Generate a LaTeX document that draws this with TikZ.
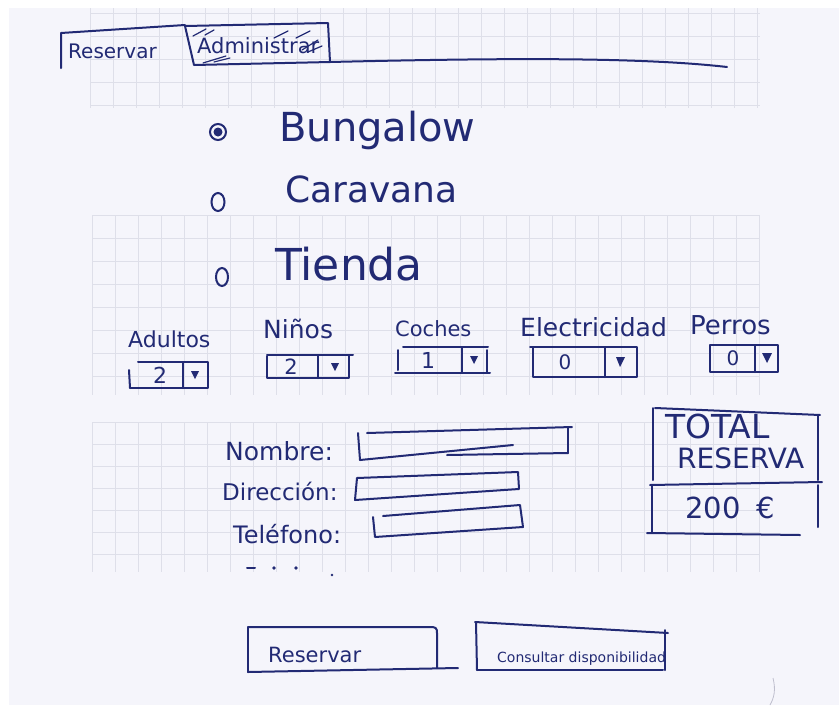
\documentclass[tikz,border=0pt]{standalone}
\usepackage{fontspec}
\setmainfont{DejaVu Sans}
\usetikzlibrary{shapes.geometric}
\definecolor{ink}{RGB}{34,42,116}
\definecolor{paper}{RGB}{245,245,251}
\definecolor{ghost}{RGB}{222,223,233}
\definecolor{crease}{RGB}{190,190,205}
\newcommand{\fs}[1]{\fontsize{#1}{#1}\selectfont}
\begin{document}
\begin{tikzpicture}[x=1pt,y=-1pt,
  pen/.style={draw=ink,line width=2pt,line cap=round,line join=round},
  thin pen/.style={draw=ink,line width=1.2pt,line cap=round},
  hand/.style={text=ink,inner sep=0pt,anchor=base west},
  digit/.style={text=ink,inner sep=0pt,anchor=center},
  gridline/.style={draw=ghost,line width=0.7pt}]
% scanned sheet of paper on a white ground
\fill[white] (0,0) rectangle (839,705);
\useasboundingbox (0,0) rectangle (839,705);
\fill[paper] (9,8) rectangle (839,705);
% faint squared paper showing through
\foreach \x in {90,113,...,760} \draw[gridline] (\x,8) -- (\x,108);
\foreach \y in {13,36,...,108} \draw[gridline] (90,\y) -- (760,\y);
\foreach \x in {92,115,...,760} \draw[gridline] (\x,215) -- (\x,395);
\foreach \y in {215,238,...,395} \draw[gridline] (92,\y) -- (760,\y);
\foreach \x in {92,115,...,760} \draw[gridline] (\x,422) -- (\x,572);
\foreach \y in {422,444,...,572} \draw[gridline] (92,\y) -- (760,\y);
\draw[crease,line width=0.8pt] (773,678) .. controls (776,690) and (774,698) .. (770,705);

% ---- tabs ----
\draw[pen] (61,68) -- (61,33) -- (185,25);
\draw[pen] (185,26) -- (328,23) -- (330,62) -- (194,65) -- cycle;
\draw[pen] (330,62) .. controls (500,58) and (640,57) .. (727,67);
\foreach \a/\b in {{(193,36)/(206,29)},{(205,35)/(214,30)},{(274,38)/(288,31)},{(296,38)/(310,31)},{(302,50)/(318,40)},{(308,52)/(322,46)},{(203,63)/(226,56)},{(214,62)/(230,58)}}
  \draw[thin pen] \a -- \b;
\node[hand,font=\fs{20}] (tabres) at (68,58) {Reservar};
\node[hand,font=\fs{21}] (tabadm) at (197,53) {Administrar};

% ---- accommodation type ----
\node[circle,draw=ink,line width=2pt,minimum size=16pt,inner sep=0pt] (rb1) at (218,132) {};
\fill[ink] (rb1.center) circle (4.5);
\node[ellipse,draw=ink,line width=2pt,minimum width=13pt,minimum height=18pt,inner sep=0pt] (rb2) at (218,202) {};
\node[ellipse,draw=ink,line width=2pt,minimum width=12pt,minimum height=18pt,inner sep=0pt] (rb3) at (222,277) {};
\node[hand,font=\fs{40}] (bung) at (279,141) {Bungalow};
\node[hand,font=\fs{36}] (cara) at (285,202) {Caravana};
\node[hand,font=\fs{44}] (tien) at (275,280) {Tienda};

% ---- counters ----
\node[hand,font=\fs{22}] (ladu) at (128,347) {Adultos};
\node[hand,font=\fs{25}] (lnin) at (263,338) {Niños};
\node[hand,font=\fs{21}] (lcoc) at (395,336) {Coches};
\node[hand,font=\fs{25}] (lele) at (520,336) {Electricidad};
\node[hand,font=\fs{26}] (lper) at (690,334) {Perros};

% Adultos
\draw[pen] (138,362) -- (208,362) -- (208,388) -- (130,388);
\draw[pen] (129,370) -- (130,388);
\draw[pen] (183,362) -- (183,388);
\node[digit,font=\fs{22}] (vadu) at (160,375) {2};
\fill[ink] (191,371) -- (199,371) -- (195,379) -- cycle;
% Niños
\draw[pen] (267,355) -- (353,355);
\draw[pen] (349,355) -- (349,378) -- (267,378) -- (267,356);
\draw[pen] (318,355) -- (318,378);
\node[digit,font=\fs{21}] (vnin) at (291,367) {2};
\fill[ink] (331,363) -- (339,363) -- (335,371) -- cycle;
% Coches
\draw[pen] (403,347) -- (488,347);
\draw[pen] (398,350) -- (398,370);
\draw[pen] (395,373) -- (490,373);
\draw[pen] (462,347) -- (462,372);
\draw[pen] (487,350) -- (487,372);
\node[digit,font=\fs{22}] (vcoc) at (428,360) {1};
\fill[ink] (470,356) -- (478,356) -- (474,364) -- cycle;
% Electricidad
\draw[pen] (530,347) -- (637,347) -- (637,377) -- (533,377) -- (533,347);
\draw[pen] (605,347) -- (605,377);
\node[digit,font=\fs{20}] (vele) at (565,362) {0};
\fill[ink] (616,357) -- (625,357) -- (620,367) -- cycle;
% Perros
\draw[pen] (710,345) -- (778,345) -- (778,372) -- (710,372) -- cycle;
\draw[pen] (755,345) -- (755,372);
\node[digit,font=\fs{20}] (vper) at (733,358) {0};
\fill[ink] (762,353) -- (772,353) -- (767,363) -- cycle;

% ---- customer data ----
\node[hand,font=\fs{25}] (lnom) at (225,460) {Nombre:};
\node[hand,font=\fs{23}] (ldir) at (222,500) {Dirección:};
\node[hand,font=\fs{24}] (ltel) at (233,543) {Teléfono:};
\draw[pen] (358,433) -- (360,460);
\draw[pen] (367,433) -- (572,427);
\draw[pen] (568,428) -- (568,453);
\draw[pen] (360,460) -- (513,445);
\draw[pen] (447,455) -- (568,453);
\draw[pen] (357,478) -- (518,472) -- (519,489) -- (355,500) -- cycle;
\draw[pen] (373,517) -- (375,537) -- (523,527) -- (520,505) -- (383,516);
\draw[pen] (247,568) -- (255,568);
\fill[ink] (274,568) circle (1.8);
\fill[ink] (296,568) circle (1.8);
\fill[ink] (332,575) circle (1.3);

% ---- total ----
\draw[pen] (655,408) -- (820,415);
\draw[pen] (653,408) -- (653,480);
\draw[pen] (818,415) -- (818,480);
\draw[pen] (650,485) -- (822,482);
\draw[pen] (652,485) -- (652,532);
\draw[pen] (818,485) -- (818,527);
\draw[pen] (647,533) -- (800,535);
\node[hand,font=\fs{33}] (ltot) at (665,438) {TOTAL};
\node[hand,font=\fs{28}] (lres) at (677,468) {RESERVA};
\node[hand,font=\fs{29}] (vtot) at (685,518) {200\hspace{16pt}€};

% ---- buttons ----
\draw[pen] (248,627) -- (248,672);
\draw[pen] (248,627) -- (430,627) .. controls (436,627) and (437,628) .. (437,633) -- (437,668);
\draw[pen] (248,672) -- (458,668);
\node[hand,font=\fs{21}] (bres) at (268,662) {Reservar};
\draw[pen] (476,622) -- (477,670);
\draw[pen] (475,622) -- (668,633);
\draw[pen] (665,630) -- (665,670);
\draw[pen] (477,670) -- (663,670);
\node[hand,font=\fs{14}] (bcon) at (497,662) {Consultar disponibilidad};
\end{tikzpicture}
\end{document}
